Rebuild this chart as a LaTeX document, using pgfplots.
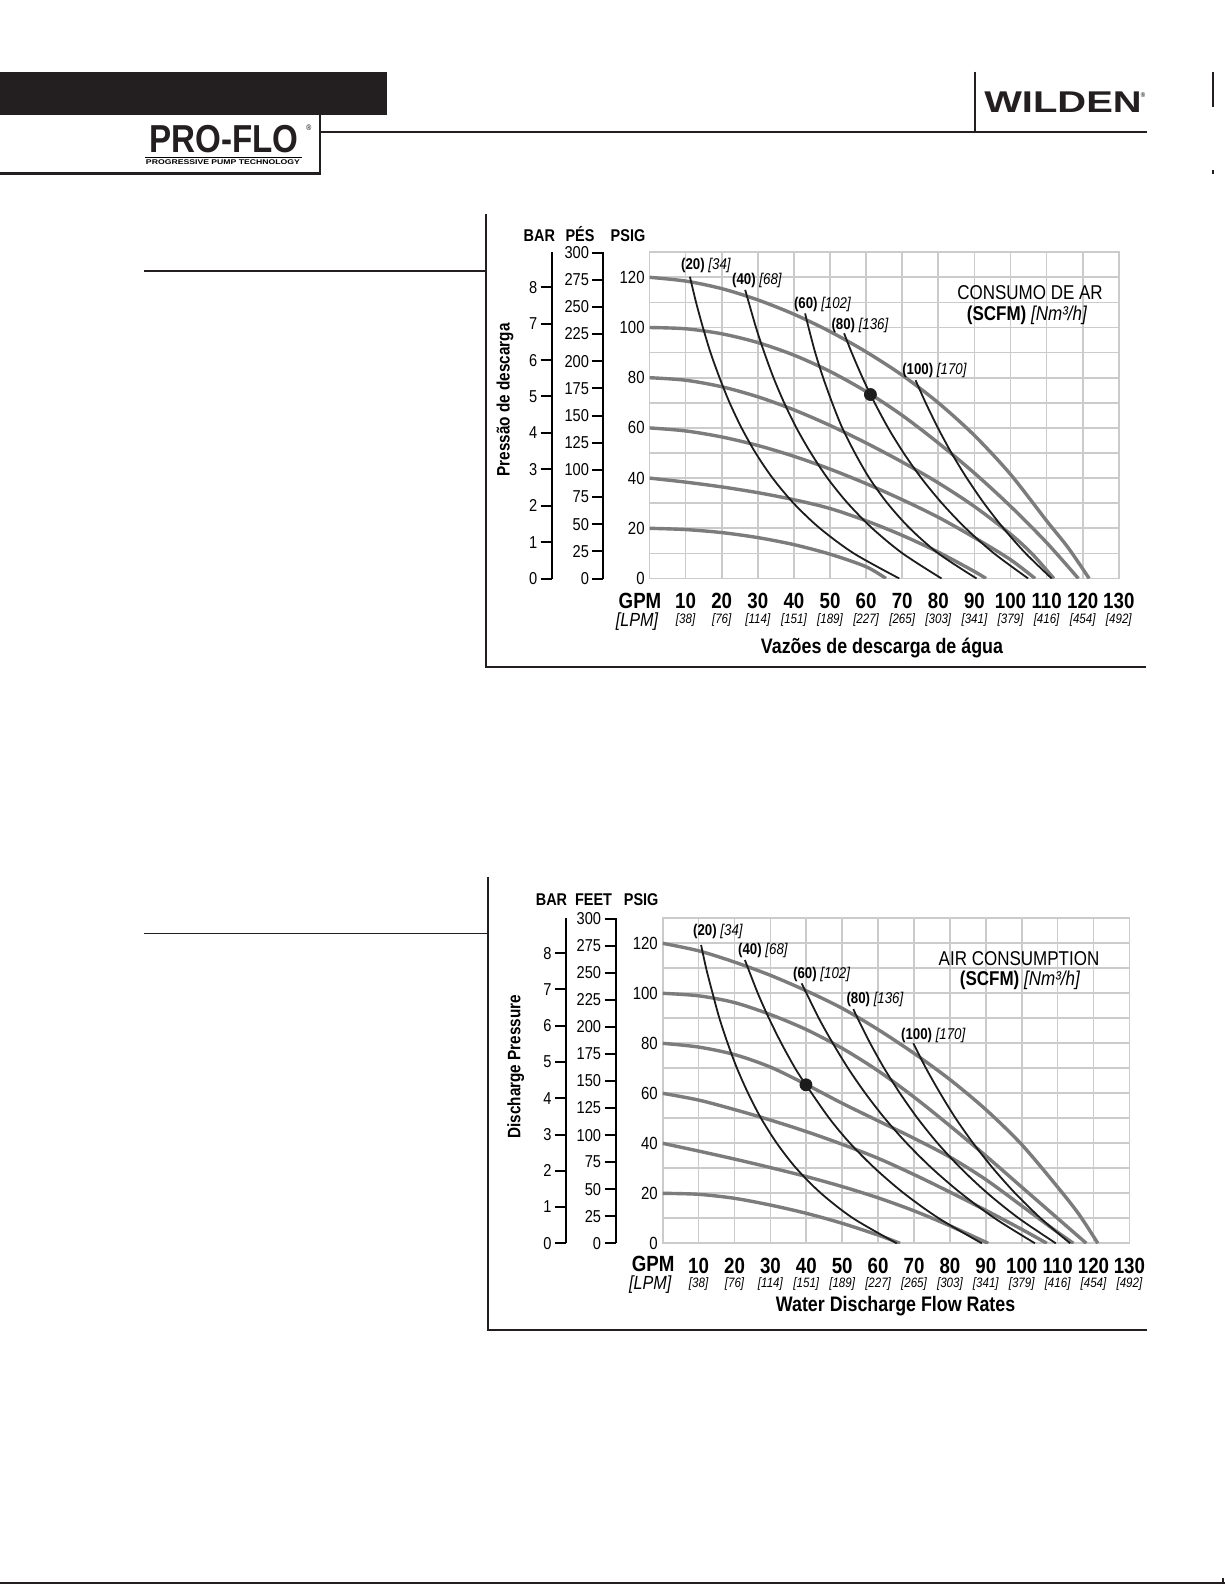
\documentclass[border=0pt]{standalone}
\usepackage{pgfplots}
\pgfplotsset{compat=1.18}
\usepackage{fontspec}
\usepackage{graphicx}
\setmainfont{Liberation Sans}[FakeStretch=0.85]
\newfontfamily\widefont{Liberation Sans}[FakeStretch=1.33]
\definecolor{gridgray}{HTML}{CBCBCB}
\definecolor{curvegray}{HTML}{7C7C7C}
\definecolor{curveblack}{HTML}{1C1C1C}
\definecolor{barblack}{HTML}{231F20}
\newcommand{\fs}[1]{\fontsize{#1}{#1}\selectfont}

\pgfplotsset{
  mainax/.style={scale only axis, anchor=south west, xmin=0,xmax=130,ymin=0,ymax=130, clip=true,
    xtick={10,20,30,40,50,60,70,80,90,100,110,120,130},
    xticklabels={10,20,30,40,50,60,70,80,90,100,110,120,130},
    ytick={0,20,40,60,80,100,120}, yticklabels={0,20,40,60,80,100,120},
    minor ytick={10,30,50,70,90,110,130},
    grid=both, major grid style={draw=gridgray, line width=0.85pt},
    minor grid style={draw=gridgray, line width=0.85pt},
    axis line style={draw=gridgray, line width=0.85pt},
    major tick length=0pt, minor tick length=0pt,
    xticklabel style={font=\bfseries\fs{11}, anchor=center, inner sep=0pt, yshift=-11.25pt},
    yticklabel style={font=\fs{8.8}, anchor=east, inner sep=0pt, xshift=-2.25pt},
    extra x ticks={10,20,30,40,50,60,70,80,90,100,110,120,130},
    extra x tick labels={[38],[76],[114],[151],[189],[227],[265],[303],[341],[379],[416],[454],[492]},
    extra x tick style={grid=none, major tick length=0pt, xticklabel style={font=\itshape\fs{6.8}, yshift=-9.25pt}},
  },
  gcurve/.style={draw=curvegray, line width=1.7pt, smooth, no markers},
  bcurve/.style={draw=curveblack, line width=0.9pt, smooth, no markers},
  sideax/.style={scale only axis, anchor=south west, width=10pt, xmin=0, xmax=1,
    axis x line=none, axis y line=left, axis line style={-, line width=1pt, black},
    tick align=outside, major tick length=5.5pt, ytick style={line width=1pt, black},
    yticklabel style={font=\fs{8.6}, inner sep=0pt, anchor=east, xshift=-1.5pt}},
}

\begin{document}
\begin{tikzpicture}
\fill[white] (0,0) rectangle (612.5pt,-792.5pt);
\path[use as bounding box] (0,0) rectangle (612.5pt,-792.5pt);

% ================= TOP CHART =================
\begin{axis}[sideax, height=163.15pt, at={(275.85pt,-289.25pt)}, ymin=0, ymax=8.963,
  ytick={0,1,2,3,4,5,6,7,8}, yticklabels={0,1,2,3,4,5,6,7,8}]
\addplot[draw=none] coordinates {(0,0)};
\end{axis}
\begin{axis}[sideax, height=163.15pt, at={(301.65pt,-289.25pt)}, ymin=0, ymax=300.3,
  ytick={0,25,50,75,100,125,150,175,200,225,250,275,300},
  yticklabels={0,25,50,75,100,125,150,175,200,225,250,275,300}]
\addplot[draw=none] coordinates {(0,0)};
\end{axis}
\begin{axis}[mainax, width=234.65pt, height=163.15pt, at={(324.75pt,-289.25pt)}]
% air inlet pressure curves (psig): 120, 100, 80, 60, 40, 20
\addplot[gcurve] coordinates {(0,120) (10,118.5) (20,115.5) (30,111) (40,105.3) (50,98.4) (60,90.3) (70,81) (80,70) (90,57) (100,41.5) (110,23) (116,12.2) (121.8,0)};
\addplot[gcurve] coordinates {(0,100) (10,99.5) (20,97.5) (30,94) (40,89) (50,82.5) (60,74.5) (70,65) (80,54) (90,42) (100,28.8) (110,14.3) (118.8,0)};
\addplot[gcurve] coordinates {(0,80) (10,79) (20,76.4) (30,72.4) (40,67.2) (50,61) (60,54) (70,46.4) (80,38.1) (90,28.7) (100,17.7) (106,9.8) (112,0)};
\addplot[gcurve] coordinates {(0,60) (10,58.8) (20,56.4) (30,53) (40,48.7) (50,43.6) (60,37.8) (70,31.4) (80,24.4) (90,16.3) (100,7.5) (106.8,0)};
\addplot[gcurve] coordinates {(0,40) (10,38.4) (20,36.5) (30,34.2) (40,31.4) (50,27.9) (60,23) (70,17.2) (80,10.5) (90,2.8) (93.2,0)};
\addplot[gcurve] coordinates {(0,20) (10,19.5) (20,18.3) (30,16.3) (40,13.5) (50,9.7) (60,4.7) (65.5,0)};
% air consumption curves (SCFM): 20, 40, 60, 80, 100
\addplot[bcurve] coordinates {(11.2,120.2) (12.9,110) (14.8,100) (16.9,90) (19.4,80) (22.2,70) (25.5,60) (29.4,50) (34.1,40) (39.9,30) (47.2,20) (56.6,10) (69.2,0)};
\addplot[bcurve] coordinates {(26.5,115) (29.5,100) (31.8,90) (34.35,80) (37.3,70) (40.7,60) (44.7,50) (49.3,40) (54.9,30) (61.7,20) (70.1,10) (80.9,0)};
\addplot[bcurve] coordinates {(43.1,105.6) (44.06,100) (45.9,90) (48.1,80) (50.6,70) (53.4,60) (56.9,50) (60.9,40) (65.9,30) (72.1,20) (80,10) (90.6,0)};
\addplot[bcurve] coordinates {(53.9,97.7) (56,90) (59,80) (61.2,73.3) (62.35,70) (66.1,60) (70.4,50) (75.3,40) (81,30) (87.6,20) (95.45,10) (104.9,0)};
\addplot[bcurve] coordinates {(73.7,79) (76.5,70) (79.9,60) (83.65,50) (87.9,40) (92.65,30) (98.05,20) (104.2,10) (111.4,0)};
\addplot[only marks, mark=*, mark size=3pt, curveblack] coordinates {(61.2,73.3)};
\end{axis}

% ================= BOTTOM CHART =================
\begin{axis}[sideax, height=162.5pt, at={(283pt,-621.65pt)}, ymin=0, ymax=8.963,
  ytick={0,1,2,3,4,5,6,7,8}, yticklabels={0,1,2,3,4,5,6,7,8}]
\addplot[draw=none] coordinates {(0,0)};
\end{axis}
\begin{axis}[sideax, height=162.5pt, at={(307.75pt,-621.65pt)}, ymin=0, ymax=300.3,
  ytick={0,25,50,75,100,125,150,175,200,225,250,275,300},
  yticklabels={0,25,50,75,100,125,150,175,200,225,250,275,300}]
\addplot[draw=none] coordinates {(0,0)};
\end{axis}
\begin{axis}[mainax, width=233.35pt, height=162.5pt, at={(331.35pt,-621.65pt)}]
\addplot[gcurve] coordinates {(0,120) (10,117) (20,112.5) (30,107.2) (40,101) (50,94) (60,85.5) (70,76) (80,65.5) (90,53.5) (100,39.5) (110,22.5) (116,11.5) (121.2,0)};
\addplot[gcurve] coordinates {(0,100) (10,99) (20,96.3) (30,91.5) (40,85.5) (50,78) (60,69) (70,58.5) (80,47) (90,35) (100,22.5) (110,10) (118,0)};
\addplot[gcurve] coordinates {(0,80) (10,78.5) (20,75.5) (30,70.5) (40,63.5) (50,56) (60,49) (70,42) (80,34.5) (90,25.5) (100,15) (108,6.5) (114.4,0)};
\addplot[gcurve] coordinates {(0,60) (10,57.3) (20,53.5) (30,49.3) (40,44.7) (50,39.6) (60,34) (70,27.5) (80,20.5) (90,13.2) (100,5.6) (107,0)};
\addplot[gcurve] coordinates {(0,40) (10,36.9) (20,33.7) (30,30.3) (40,26.7) (50,22.7) (60,18.2) (70,13) (80,7) (90.7,0)};
\addplot[gcurve] coordinates {(0,20) (10,19.6) (20,18) (30,15.3) (40,12) (50,8) (60,3.3) (66.1,0)};
\addplot[bcurve] coordinates {(10.7,119.3) (12.1,110) (13.9,100) (15.8,90) (18.1,80) (20.7,70) (23.8,60) (27.4,50) (31.8,40) (37.2,30) (44.1,20) (53.05,10) (65.2,0)};
\addplot[bcurve] coordinates {(22.9,113.3) (26.5,100) (29.6,90) (33.05,80) (36.9,70) (39.9,63.4) (46.4,50) (52.2,40) (59.1,30) (67.2,20) (76.9,10) (88.9,0)};
\addplot[bcurve] coordinates {(38.7,104) (43.5,90) (47.4,80) (51.65,70) (56.45,60) (61.85,50) (68,40) (75,30) (83.1,20) (92.5,10) (103.7,0)};
\addplot[bcurve] coordinates {(53.1,93.7) (54.3,90) (57.8,80) (61.7,70) (66.1,60) (71,50) (76.6,40) (83.05,30) (90.5,20) (99.2,10) (109.5,0)};
\addplot[bcurve] coordinates {(69.8,80) (73.35,70) (77.3,60) (81.6,50) (86.5,40) (92,30) (98.2,20) (105.3,10) (113.5,0)};
\addplot[only marks, mark=*, mark size=3pt, curveblack] coordinates {(39.9,63.4)};
\end{axis}

% ================= PAGE DECORATION (pixel units) =================
\begin{scope}[x=0.5pt, y=-0.5pt]
% header
\fill[barblack] (0,71.7) rectangle (386.7,115);
\draw[line width=1.1pt, barblack] (320.3,115) -- (320.3,173.5);
\draw[line width=1.3pt, barblack] (0,173.5) -- (321,173.5);
\draw[line width=1.1pt, barblack] (320.3,131.7) -- (1147,131.7);
\draw[line width=0.8pt, barblack] (975,71.7) -- (975,131.7);
\draw[line width=0.8pt, barblack] (1213,72) -- (1213,107);
\draw[line width=0.8pt, barblack] (1213,170) -- (1213,173.5);
\node[font=\widefont\bfseries\fs{15}, inner sep=0pt, text=barblack] at (1063,102.5) {WILDEN};
\node[font=\fs{3.5}, inner sep=0pt] at (1143,95) {\textregistered};
\node[font=\bfseries\fs{19.5}, inner sep=0pt, text=barblack] at (224,139.5) {PRO-FLO};
\node[font=\fs{4}, inner sep=0pt] at (309,128) {\textregistered};
\draw[line width=0.5pt] (145,157) -- (302,157);
\node[inner sep=0pt] at (223,162) {\resizebox{77pt}{2.4pt}{\bfseries PROGRESSIVE PUMP TECHNOLOGY}};
% frames
\draw[line width=1pt, barblack] (486,214) -- (486,667.3) -- (1146,667.3);
\draw[line width=0.9pt, barblack] (144,271) -- (486,271);
\draw[line width=1pt, barblack] (487.6,876.7) -- (487.6,1330) -- (1147,1330);
\draw[line width=0.9pt, barblack] (144,933.5) -- (487.6,933.5);
\draw[line width=1pt, barblack] (0,1583) -- (1225,1583);
\draw[line width=0.8pt, barblack] (1223,1578) -- (1223,1583);

% top chart texts
\node[font=\bfseries\fs{8.5}, anchor=base] at (539.3,241) {BAR};
\node[font=\bfseries\fs{8.5}, anchor=base] at (580,241) {PÉS};
\node[font=\bfseries\fs{8.5}, anchor=base] at (628,241) {PSIG};
\node[font=\bfseries\fs{9}, rotate=90] at (505,400) {Pressão de descarga};
\node[font=\bfseries\fs{11}, inner sep=0pt] at (640,601) {GPM};
\node[font=\itshape\fs{9.5}, inner sep=0pt] at (637,621.5) {[LPM]};
\node[font=\bfseries\fs{10.5}, anchor=base] at (882,653) {Vazões de descarga de água};
\node[font=\fs{10}, inner sep=0pt] at (1030,292.7) {CONSUMO DE AR};
\node[font=\fs{10}, inner sep=0pt] at (1027,315) {\textbf{(SCFM)} \textit{[Nm³/h]}};
\node[font=\fs{7.8}, inner sep=0pt] at (706,265.7) {\textbf{(20)} \textit{[34]}};
\node[font=\fs{7.8}, inner sep=0pt] at (757,280) {\textbf{(40)} \textit{[68]}};
\node[font=\fs{7.8}, inner sep=0pt] at (822.5,304.3) {\textbf{(60)} \textit{[102]}};
\node[font=\fs{7.8}, inner sep=0pt] at (860,325) {\textbf{(80)} \textit{[136]}};
\node[font=\fs{7.8}, inner sep=0pt] at (934.5,370) {\textbf{(100)} \textit{[170]}};

% bottom chart texts
\node[font=\bfseries\fs{8.5}, anchor=base] at (551.5,905) {BAR};
\node[font=\bfseries\fs{8.5}, anchor=base] at (593.6,905) {FEET};
\node[font=\bfseries\fs{8.5}, anchor=base] at (641.2,905) {PSIG};
\node[font=\bfseries\fs{9}, rotate=90] at (515.8,1066.7) {Discharge Pressure};
\node[font=\bfseries\fs{11}, inner sep=0pt] at (653.2,1264) {GPM};
\node[font=\itshape\fs{9.5}, inner sep=0pt] at (650.2,1284.5) {[LPM]};
\node[font=\bfseries\fs{10.5}, anchor=base] at (895.6,1311) {Water Discharge Flow Rates};
\node[font=\fs{10}, inner sep=0pt] at (1019,958.3) {AIR CONSUMPTION};
\node[font=\fs{10}, inner sep=0pt] at (1020,980) {\textbf{(SCFM)} \textit{[Nm³/h]}};
\node[font=\fs{7.8}, inner sep=0pt] at (718,931.7) {\textbf{(20)} \textit{[34]}};
\node[font=\fs{7.8}, inner sep=0pt] at (763,950) {\textbf{(40)} \textit{[68]}};
\node[font=\fs{7.8}, inner sep=0pt] at (821.7,974.3) {\textbf{(60)} \textit{[102]}};
\node[font=\fs{7.8}, inner sep=0pt] at (875,999) {\textbf{(80)} \textit{[136]}};
\node[font=\fs{7.8}, inner sep=0pt] at (933.3,1035) {\textbf{(100)} \textit{[170]}};
\end{scope}
\end{tikzpicture}
\end{document}
